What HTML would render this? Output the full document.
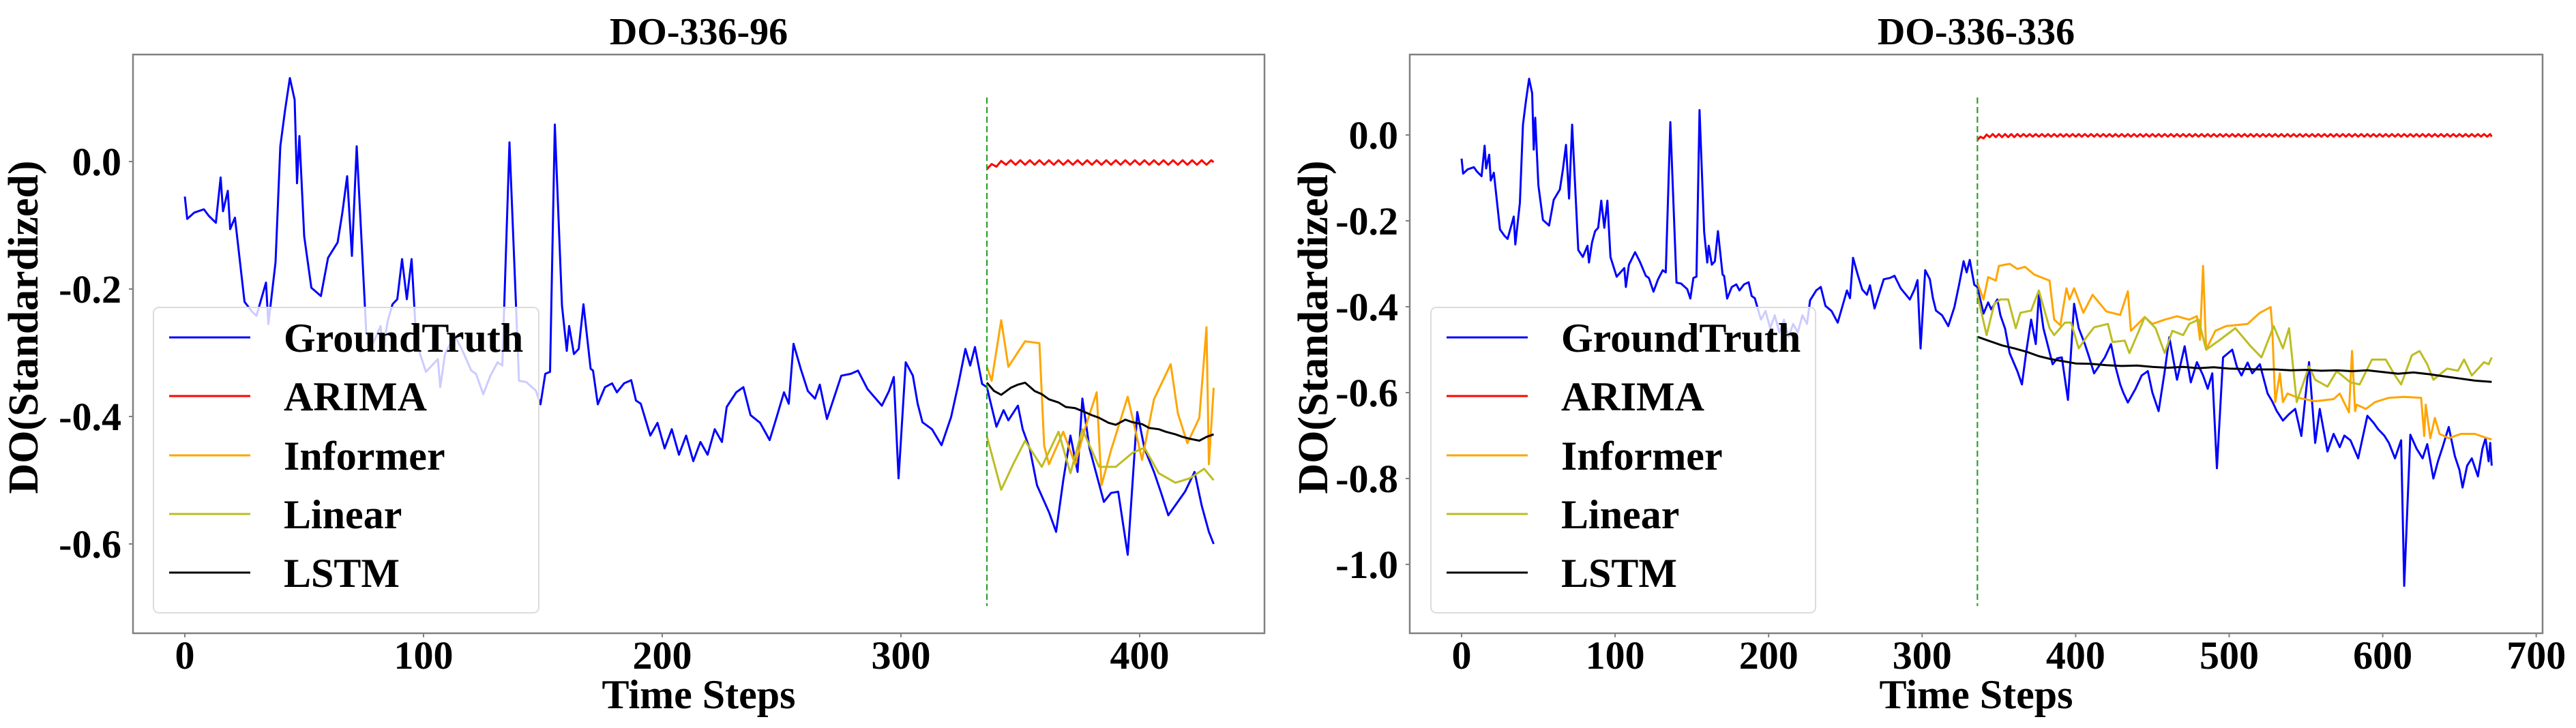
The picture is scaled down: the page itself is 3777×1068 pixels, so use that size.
<!DOCTYPE html>
<html><head><meta charset="utf-8"><style>
html,body{margin:0;padding:0;background:#fff;}
svg{display:block;font-family:"Liberation Serif","DejaVu Serif",serif;}
text{font-family:"Liberation Serif","DejaVu Serif",serif;font-weight:bold;fill:#000;}
</style></head><body>
<svg id="chart" width="3777" height="1068" viewBox="0 0 3777 1068" xmlns="http://www.w3.org/2000/svg" font-family="Liberation Serif, serif"></svg>
<script>
// ---- Data ----
const gtSteps = [0,1,4,8,10,13,15,16,18,19,21,25,28,30,34,35,38,40,42,44,46,47,48,50,53,57,60,64,66,68,70,72,76,79,82,83,85,87,89,91,93,95,97,101,106,107,109,113,116,120,122,125,128,131,133,136,140,143,147,149,151,153,155,158,160,161,163,165,167,170,171,173,176,179,181,184,187,189,191,195,198,201,204,207,210,213,216,219,222,225,227,231,234,237,241,245,248,251,253,255,258,261,264,266,269,272,275,279,282,286,289,292,295,297,299,302,305,307,309,313,317,321,324,327,329,331,334,336,340,343,345,349,351,354,357,362,365,368,371,374,376,379,382,385,388,391,395,399,402,406,409,412,419,423,426,429,431,434,439,443,447,450,454,458,461,466,471,475,479,483,486,489,492,496,502,505,508,512,515,520,525,528,531,535,539,543,547,552,556,559,564,568,572,575,579,584,590,594,597,601,604,608,612,614,618,622,626,629,633,636,639,643,647,650,652,655,658,662,665,667,669,670,671];
const gtValues = [-0.055,-0.09,-0.08,-0.075,-0.085,-0.096,-0.025,-0.078,-0.046,-0.106,-0.088,-0.22,-0.235,-0.242,-0.19,-0.255,-0.158,0.024,0.081,0.131,0.097,-0.034,0.04,-0.117,-0.198,-0.211,-0.151,-0.127,-0.08,-0.023,-0.148,0.024,-0.268,-0.284,-0.258,-0.297,-0.25,-0.224,-0.216,-0.153,-0.216,-0.153,-0.284,-0.33,-0.31,-0.354,-0.302,-0.273,-0.294,-0.328,-0.333,-0.365,-0.336,-0.315,-0.32,0.03,-0.344,-0.346,-0.359,-0.381,-0.333,-0.33,0.058,-0.226,-0.297,-0.258,-0.302,-0.294,-0.224,-0.325,-0.328,-0.381,-0.354,-0.348,-0.362,-0.348,-0.343,-0.375,-0.38,-0.43,-0.41,-0.45,-0.42,-0.46,-0.43,-0.47,-0.44,-0.46,-0.42,-0.44,-0.385,-0.362,-0.354,-0.398,-0.41,-0.437,-0.4,-0.362,-0.38,-0.286,-0.325,-0.36,-0.372,-0.35,-0.404,-0.37,-0.336,-0.333,-0.328,-0.357,-0.37,-0.383,-0.36,-0.338,-0.497,-0.315,-0.336,-0.38,-0.409,-0.42,-0.445,-0.401,-0.35,-0.294,-0.32,-0.291,-0.349,-0.354,-0.416,-0.39,-0.406,-0.383,-0.42,-0.451,-0.508,-0.55,-0.581,-0.5,-0.43,-0.487,-0.372,-0.45,-0.492,-0.534,-0.52,-0.518,-0.617,-0.393,-0.45,-0.487,-0.52,-0.555,-0.518,-0.487,-0.54,-0.581,-0.6,-0.623,-0.591,-0.56,-0.55,-0.6,-0.643,-0.55,-0.471,-0.57,-0.492,-0.576,-0.529,-0.56,-0.591,-0.555,-0.776,-0.518,-0.5,-0.54,-0.56,-0.53,-0.555,-0.534,-0.602,-0.62,-0.643,-0.665,-0.65,-0.638,-0.701,-0.529,-0.717,-0.638,-0.737,-0.696,-0.727,-0.7,-0.711,-0.753,-0.654,-0.67,-0.685,-0.7,-0.717,-0.753,-0.711,-1.05,-0.698,-0.73,-0.753,-0.72,-0.8,-0.76,-0.727,-0.68,-0.748,-0.78,-0.821,-0.77,-0.753,-0.795,-0.73,-0.706,-0.76,-0.717,-0.77];

// Left panel (DO-336-96) forecasts
const leftInfSteps = [336,338,342,345,352,358,360,362,368,373,377,382,384,388,395,401,406,413,416,420,425,428,429,431];
const leftInfValues = [-0.322,-0.344,-0.249,-0.322,-0.282,-0.285,-0.446,-0.475,-0.424,-0.475,-0.42,-0.362,-0.508,-0.453,-0.369,-0.468,-0.373,-0.318,-0.395,-0.442,-0.402,-0.26,-0.475,-0.355];
const leftLinSteps = [336,342,347,352,359,366,371,376,383,390,397,402,408,415,421,427,431];
const leftLinValues = [-0.431,-0.515,-0.475,-0.438,-0.479,-0.424,-0.489,-0.42,-0.479,-0.479,-0.457,-0.449,-0.489,-0.504,-0.497,-0.482,-0.5];
const leftLstmSteps = [336,339,342,346,349,352,356,359,362,366,369,373,377,380,383,387,390,394,397,401,404,408,411,415,418,421,425,428,431];
const leftLstmValues = [-0.347,-0.36,-0.366,-0.355,-0.35,-0.347,-0.36,-0.365,-0.373,-0.378,-0.385,-0.387,-0.393,-0.398,-0.402,-0.41,-0.413,-0.405,-0.409,-0.412,-0.418,-0.42,-0.424,-0.428,-0.432,-0.435,-0.438,-0.432,-0.428];
const leftArimaSteps = [336,338,340,342,344,346,348,350,352,354,356,358,360,362,364,366,368,370,372,374,376,378,380,382,384,386,388,390,392,394,396,398,400,402,404,406,408,410,412,414,416,418,420,422,424,426,428,430,431];
const leftArimaValues = [-0.012,-0.004,-0.008,0.001,
-0.005,0.002,-0.005,0.002,-0.005,0.002,-0.005,0.002,-0.005,0.002,-0.005,0.002,-0.005,0.002,-0.005,0.002,-0.005,0.002,
-0.005,0.002,-0.005,0.002,-0.005,0.002,-0.005,0.002,-0.005,0.002,-0.005,0.002,-0.005,0.002,-0.005,0.002,-0.005,0.002,
-0.005,0.002,-0.005,0.002,-0.005,0.002,-0.005,0.002,
-0.001];

// Right panel (DO-336-336) forecasts
const rightInfSteps = [336,340,343,348,350,357,362,367,373,383,386,390,394,396,399,405,411,420,429,434,436,445,450,458,466,474,479,481,483,485,491,498,512,520,527,528,530,533,535,538,545,556,568,572,578,580,582,583,589,595,604,614,625,627,628,631,634,637,643,651,660,668,671];
const rightInfValues = [-0.344,-0.383,-0.331,-0.339,-0.305,-0.3,-0.312,-0.307,-0.325,-0.339,-0.43,-0.443,-0.357,-0.383,-0.357,-0.414,-0.372,-0.411,-0.419,-0.364,-0.456,-0.424,-0.44,-0.43,-0.422,-0.43,-0.422,-0.477,-0.305,-0.5,-0.456,-0.445,-0.44,-0.414,-0.401,-0.445,-0.622,-0.555,-0.622,-0.602,-0.612,-0.62,-0.615,-0.602,-0.646,-0.503,-0.643,-0.628,-0.638,-0.622,-0.612,-0.61,-0.612,-0.701,-0.628,-0.706,-0.659,-0.696,-0.706,-0.696,-0.696,-0.706,-0.709];
const rightLinSteps = [336,342,347,351,356,361,364,371,376,383,386,393,397,402,407,412,421,424,432,435,445,452,458,463,470,474,480,485,494,504,514,521,529,535,539,544,552,556,564,570,579,585,593,602,608,612,619,624,629,633,642,649,653,658,666,669,671];
const rightLinValues = [-0.372,-0.466,-0.393,-0.383,-0.383,-0.45,-0.414,-0.409,-0.362,-0.45,-0.466,-0.437,-0.437,-0.497,-0.471,-0.448,-0.44,-0.482,-0.479,-0.508,-0.424,-0.45,-0.508,-0.456,-0.466,-0.44,-0.43,-0.5,-0.477,-0.45,-0.492,-0.518,-0.445,-0.497,-0.45,-0.622,-0.539,-0.57,-0.586,-0.55,-0.576,-0.581,-0.523,-0.523,-0.56,-0.581,-0.513,-0.503,-0.534,-0.57,-0.544,-0.549,-0.523,-0.56,-0.529,-0.534,-0.518];
const rightLstmSteps = [336,344,352,360,368,376,384,392,400,410,420,430,440,450,460,470,480,490,500,510,520,530,540,550,560,570,580,590,600,610,620,630,640,650,660,671];
const rightLstmValues = [-0.47,-0.48,-0.49,-0.497,-0.505,-0.515,-0.522,-0.527,-0.532,-0.533,-0.536,-0.538,-0.537,-0.54,-0.542,-0.54,-0.543,-0.541,-0.544,-0.545,-0.546,-0.546,-0.548,-0.547,-0.549,-0.548,-0.55,-0.548,-0.552,-0.556,-0.553,-0.557,-0.562,-0.567,-0.572,-0.575];
const rightArimaSteps = [336,338,340,342,344,346,348,350,352,354,356,358,360,362,364,366,368,370,372,374,376,378,380,382,384,386,388,390,392,394,396,398,400,402,404,406,408,410,412,414,416,418,420,422,424,426,428,430,432,434,436,438,440,442,444,446,448,450,452,454,456,458,460,462,464,466,468,470,472,474,476,478,480,482,484,486,488,490,492,494,496,498,500,502,504,506,508,510,512,514,516,518,520,522,524,526,528,530,532,534,536,538,540,542,544,546,548,550,552,554,556,558,560,562,564,566,568,570,572,574,576,578,580,582,584,586,588,590,592,594,596,598,600,602,604,606,608,610,612,614,616,618,620,622,624,626,628,630,632,634,636,638,640,642,644,646,648,650,652,654,656,658,660,662,664,666,668,670,671];
const rightArimaValues = [-0.012,-0.004,-0.008,0.001,
-0.005,0.002,-0.005,0.002,-0.005,0.002,-0.005,0.002,-0.005,0.002,-0.004,0.002,-0.004,0.002,-0.004,0.002,-0.004,0.002,-0.004,0.002,-0.004,0.002,-0.004,0.002,-0.004,0.002,
-0.004,0.002,-0.004,0.002,-0.004,0.002,-0.004,0.002,-0.004,0.002,-0.004,0.002,-0.004,0.002,-0.004,0.002,-0.004,0.002,-0.004,0.002,
-0.004,0.002,-0.004,0.002,-0.004,0.002,-0.004,0.002,-0.004,0.002,-0.004,0.002,-0.004,0.002,-0.004,0.002,-0.004,0.002,-0.004,0.002,
-0.004,0.002,-0.004,0.002,-0.004,0.002,-0.004,0.002,-0.004,0.002,-0.004,0.002,-0.004,0.002,-0.004,0.002,-0.004,0.002,-0.004,0.002,
-0.004,0.002,-0.004,0.002,-0.004,0.002,-0.004,0.002,-0.004,0.002,-0.004,0.002,-0.004,0.002,-0.004,0.002,-0.004,0.002,-0.004,0.002,
-0.004,0.002,-0.004,0.002,-0.004,0.002,-0.004,0.002,-0.004,0.002,-0.004,0.002,-0.004,0.002,-0.004,0.002,-0.004,0.002,-0.004,0.002,
-0.004,0.002,-0.004,0.002,-0.004,0.002,-0.004,0.002,-0.004,0.002,-0.004,0.002,-0.004,0.002,-0.004,0.002,-0.004,0.002,-0.004,0.002,
-0.004,0.002,-0.004,0.002,-0.004,0.002,-0.004,0.002,-0.004,0.002,-0.004,0.002,-0.004,0.002,-0.004,0.002,-0.004,0.002,-0.004,0.002,
-0.004,0.002,-0.004,0.002,
-0.001];

const leftXTicks = [0,100,200,300,400];
const leftXTickLabels = ["0","100","200","300","400"];
const leftYTicks = [0,-0.2,-0.4,-0.6];
const leftYTickLabels = ["0.0","-0.2","-0.4","-0.6"];
const rightXTicks = [0,100,200,300,400,500,600,700];
const rightXTickLabels = ["0","100","200","300","400","500","600","700"];
const rightYTicks = [0,-0.2,-0.4,-0.6,-0.8,-1.0];
const rightYTickLabels = ["0.0","-0.2","-0.4","-0.6","-0.8","-1.0"];
const legendLabels = ["GroundTruth","ARIMA","Informer","Linear","LSTM"];
const splitStep = 336;

const NS = "http://www.w3.org/2000/svg";
const FONT = "Liberation Serif, DejaVu Serif, serif";
const svg = document.getElementById('chart');
function mk(tag, parent){ const e=document.createElementNS(NS,tag); parent.appendChild(e); if(tag==='text'){e.setAttribute('font-family',FONT);e.setAttribute('font-weight','bold');} return e; }

function drawPanel(p){
  const g = mk('g', svg);
  
  
  const sx = v => p.px0 + (v - p.x0)*p.kx;
  const sy = v => p.py0 - v*p.ky;
  const t = mk('text', g);
  
  
  t.setAttribute('x', (p.left+p.right)/2); t.setAttribute('y', 65);
  t.setAttribute('text-anchor','middle'); t.setAttribute('font-size','56');
  t.textContent = p.title;
  const cp = mk('clipPath', g); cp.setAttribute('id', p.name+'-clip');
  const cr = mk('rect', cp); cr.setAttribute('x',p.left); cr.setAttribute('y',p.top);
  cr.setAttribute('width',p.right-p.left); cr.setAttribute('height',p.bottom-p.top);
  const plot = mk('g', g); plot.setAttribute('clip-path','url(#'+p.name+'-clip)');
  
  
  function line(xs, ys, color, name, maxStep){
    let d='';
    const n = Math.min(xs.length, ys.length);
    for(let i=0;i<n;i++){ if(xs[i]>maxStep) break; d += (d?'L':'M')+sx(xs[i]).toFixed(1)+','+sy(ys[i]).toFixed(1); }
    const path = mk('path', plot);
    
    
    path.setAttribute('d', d); path.setAttribute('fill','none'); path.setAttribute('stroke',color);
    path.setAttribute('stroke-width','3'); path.setAttribute('stroke-linejoin','round');
  }
  line(gtSteps, gtValues, '#0000ff', 'series-groundtruth', p.maxStep);
  line(p.arimaS, p.arimaV, '#ff0000', 'series-arima', p.maxStep);
  line(p.infS, p.infV, '#ffa500', 'series-informer', p.maxStep);
  line(p.linS, p.linV, '#bcbd22', 'series-linear', p.maxStep);
  line(p.lstmS, p.lstmV, '#000000', 'series-lstm', p.maxStep);
  const dl = mk('line', plot);
  
  
  dl.setAttribute('x1',sx(splitStep)); dl.setAttribute('x2',sx(splitStep));
  dl.setAttribute('y1',143); dl.setAttribute('y2',889);
  dl.setAttribute('stroke','#2ca02c'); dl.setAttribute('stroke-width','2.2'); dl.setAttribute('stroke-dasharray','9,5');
  const fr = mk('rect', g);
  
  
  fr.setAttribute('x',p.left); fr.setAttribute('y',p.top); fr.setAttribute('width',p.right-p.left); fr.setAttribute('height',p.bottom-p.top);
  fr.setAttribute('fill','none'); fr.setAttribute('stroke','#808080'); fr.setAttribute('stroke-width','2.5');
  p.xt.forEach((v,i)=>{
    const x = sx(v);
    const tk = mk('line', g);
    
    
    tk.setAttribute('x1',x); tk.setAttribute('x2',x); tk.setAttribute('y1',p.bottom); tk.setAttribute('y2',p.bottom+6);
    tk.setAttribute('stroke','#808080'); tk.setAttribute('stroke-width','2');
    const tl = mk('text', g);
    
    
    tl.setAttribute('x',x); tl.setAttribute('y',981); tl.setAttribute('text-anchor','middle'); tl.setAttribute('font-size','58');
    tl.textContent = p.xtl[i];
  });
  p.yt.forEach((v,i)=>{
    const y = sy(v);
    const tk = mk('line', g);
    
    
    tk.setAttribute('x1',p.left-6); tk.setAttribute('x2',p.left); tk.setAttribute('y1',y); tk.setAttribute('y2',y);
    tk.setAttribute('stroke','#808080'); tk.setAttribute('stroke-width','2');
    const tl = mk('text', g);
    
    
    tl.setAttribute('x',p.left-17); tl.setAttribute('y',y+20); tl.setAttribute('text-anchor','end'); tl.setAttribute('font-size','58');
    tl.textContent = p.ytl[i];
  });
  const xl = mk('text', g);
  
  
  xl.setAttribute('x',(p.left+p.right)/2); xl.setAttribute('y',1039); xl.setAttribute('text-anchor','middle'); xl.setAttribute('font-size','60');
  xl.textContent = 'Time Steps';
  const yl = mk('text', g);
  
  
  yl.setAttribute('transform','translate('+(p.ylx)+',480) rotate(-90)');
  yl.setAttribute('text-anchor','middle'); yl.setAttribute('font-size','62');
  yl.textContent = 'DO(Standardized)';
  const lg = mk('g', g);
  
  
  const lb = mk('rect', lg);
  lb.setAttribute('x',p.lgx); lb.setAttribute('y',451); lb.setAttribute('width',p.lgw); lb.setAttribute('height',448);
  lb.setAttribute('rx','8'); lb.setAttribute('fill','#ffffff'); lb.setAttribute('fill-opacity','0.8');
  lb.setAttribute('stroke','#dcdcdc'); lb.setAttribute('stroke-width','2');
  const colors = ['#0000ff','#ff0000','#ffa500','#bcbd22','#000000'];
  const ys = [495,581,668,754,840];
  legendLabels.forEach((lab,i)=>{
    const e = mk('g', lg);
    
    
    const ln = mk('line', e);
    ln.setAttribute('x1',p.lgx+23); ln.setAttribute('x2',p.lgx+142); ln.setAttribute('y1',ys[i]); ln.setAttribute('y2',ys[i]);
    ln.setAttribute('stroke',colors[i]); ln.setAttribute('stroke-width','3');
    const tx = mk('text', e);
    tx.setAttribute('x',p.lgx+191); tx.setAttribute('y',ys[i]+21); tx.setAttribute('font-size','60');
    tx.textContent = lab;
  });
}

drawPanel({name:'panel-do-336-96', title:'DO-336-96', left:195, right:1854, top:80, bottom:929,
  px0:271, x0:0, kx:3.5, py0:237, ky:935, maxStep:432,
  arimaS:leftArimaSteps, arimaV:leftArimaValues, infS:leftInfSteps, infV:leftInfValues,
  linS:leftLinSteps, linV:leftLinValues, lstmS:leftLstmSteps, lstmV:leftLstmValues,
  xt:leftXTicks, xtl:leftXTickLabels, yt:leftYTicks, ytl:leftYTickLabels, ylx:55, lgx:225, lgw:565});
drawPanel({name:'panel-do-336-336', title:'DO-336-336', left:2067, right:3728, top:80, bottom:929,
  px0:2143, x0:0, kx:2.251, py0:198, ky:630, maxStep:700,
  arimaS:rightArimaSteps, arimaV:rightArimaValues, infS:rightInfSteps, infV:rightInfValues,
  linS:rightLinSteps, linV:rightLinValues, lstmS:rightLstmSteps, lstmV:rightLstmValues,
  xt:rightXTicks, xtl:rightXTickLabels, yt:rightYTicks, ytl:rightYTickLabels, ylx:1946, lgx:2098, lgw:564});
</script>
</body></html>
